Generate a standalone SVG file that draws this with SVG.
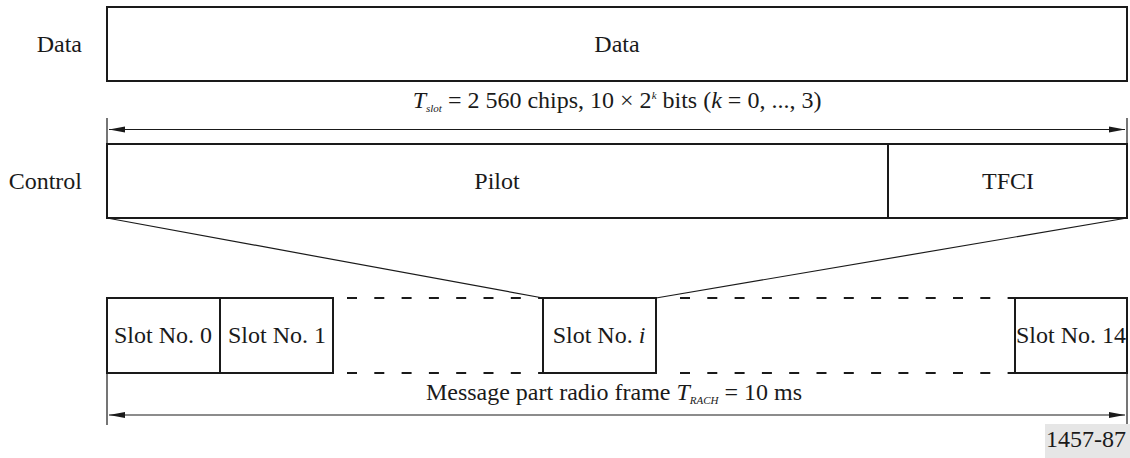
<svg xmlns="http://www.w3.org/2000/svg" width="1130" height="458" viewBox="0 0 1130 458" font-family="'Liberation Serif', 'DejaVu Serif', serif">
<defs>
<style>
text{font-family:'Liberation Serif','DejaVu Serif',serif;font-size:24px;fill:#1a1a1a}
.box{fill:#fff;stroke:#1a1a1a;stroke-width:2}
.thin{stroke:#1a1a1a;stroke-width:1.2;fill:none}
.dash{stroke:#1a1a1a;stroke-width:2;stroke-dasharray:10 17.3;fill:none}
.mid{text-anchor:middle}
.sub{font-size:11px;font-style:italic}
.it{font-style:italic}
</style>
<marker id="ah" markerWidth="16" markerHeight="8" refX="16" refY="4" orient="auto-start-reverse" markerUnits="userSpaceOnUse">
<path d="M0,1 L16,4 L0,7 Z" fill="#1a1a1a"/>
</marker>
</defs>
<rect width="1130" height="458" fill="#fff"/>

<g id="labels">
<text x="82" y="52" text-anchor="end">Data</text>
<text x="82" y="189" text-anchor="end">Control</text>
</g>

<g id="data">
<rect class="box" x="107" y="7" width="1020" height="74"/>
<text class="mid" x="617" y="52">Data</text>
</g>

<g id="control">
<rect class="box" x="107" y="144" width="1020" height="74"/>
<line x1="888" y1="144" x2="888" y2="218" stroke="#1a1a1a" stroke-width="2"/>
<text class="mid" x="497" y="189">Pilot</text>
<text class="mid" x="1008" y="189">TFCI</text>
</g>

<g id="slot0"><rect class="box" x="107" y="298" width="113" height="75"/><text class="mid" x="163" y="343">Slot No. 0</text></g>
<g id="slot1"><rect class="box" x="220" y="298" width="113" height="75"/><text class="mid" x="277" y="343">Slot No. 1</text></g>
<g id="sloti"><rect class="box" x="543" y="298" width="113" height="75"/><text class="mid" x="599" y="343">Slot No. <tspan class="it">i</tspan></text></g>
<g id="slot14"><rect class="box" x="1015" y="298" width="112" height="75"/><text class="mid" x="1071" y="343">Slot No. 14</text></g>

<g id="connectors">
<line class="dash" x1="347" y1="298" x2="543" y2="298"/>
<line class="dash" x1="347" y1="373" x2="543" y2="373"/>
<line class="dash" x1="680" y1="298" x2="1015" y2="298"/>
<line class="dash" x1="680" y1="373" x2="1015" y2="373"/>
<line class="thin" x1="107" y1="218" x2="543" y2="298"/>
<line class="thin" x1="1127" y1="218" x2="656" y2="298"/>
<line class="thin" x1="107" y1="118" x2="107" y2="144"/>
<line class="thin" x1="1127" y1="118" x2="1127" y2="144"/>
<line class="thin" x1="109" y1="129.5" x2="1125" y2="129.5" marker-start="url(#ah)" marker-end="url(#ah)"/>
<line class="thin" x1="107" y1="373" x2="107" y2="425"/>
<line class="thin" x1="1127" y1="373" x2="1127" y2="425"/>
<line class="thin" x1="109" y1="415" x2="1125" y2="415" marker-start="url(#ah)" marker-end="url(#ah)"/>
</g>

<g id="dims">
<text class="mid" x="617" y="108"><tspan class="it">T</tspan><tspan class="sub" dy="4">slot</tspan><tspan dy="-4"> = 2 560 chips, 10 × 2</tspan><tspan class="sub" dy="-9">k</tspan><tspan dy="9"> bits (</tspan><tspan class="it">k</tspan> = 0, ..., 3)</text>
<text class="mid" x="614" y="400">Message part radio frame <tspan class="it">T</tspan><tspan class="sub" dy="4">RACH</tspan><tspan dy="-4"> = 10 ms</tspan></text>
</g>

<g id="figid">
<rect x="1045" y="424" width="85" height="34" fill="#e6e6e6"/>
<text x="1126" y="447" text-anchor="end">1457-87</text>
</g>
</svg>
